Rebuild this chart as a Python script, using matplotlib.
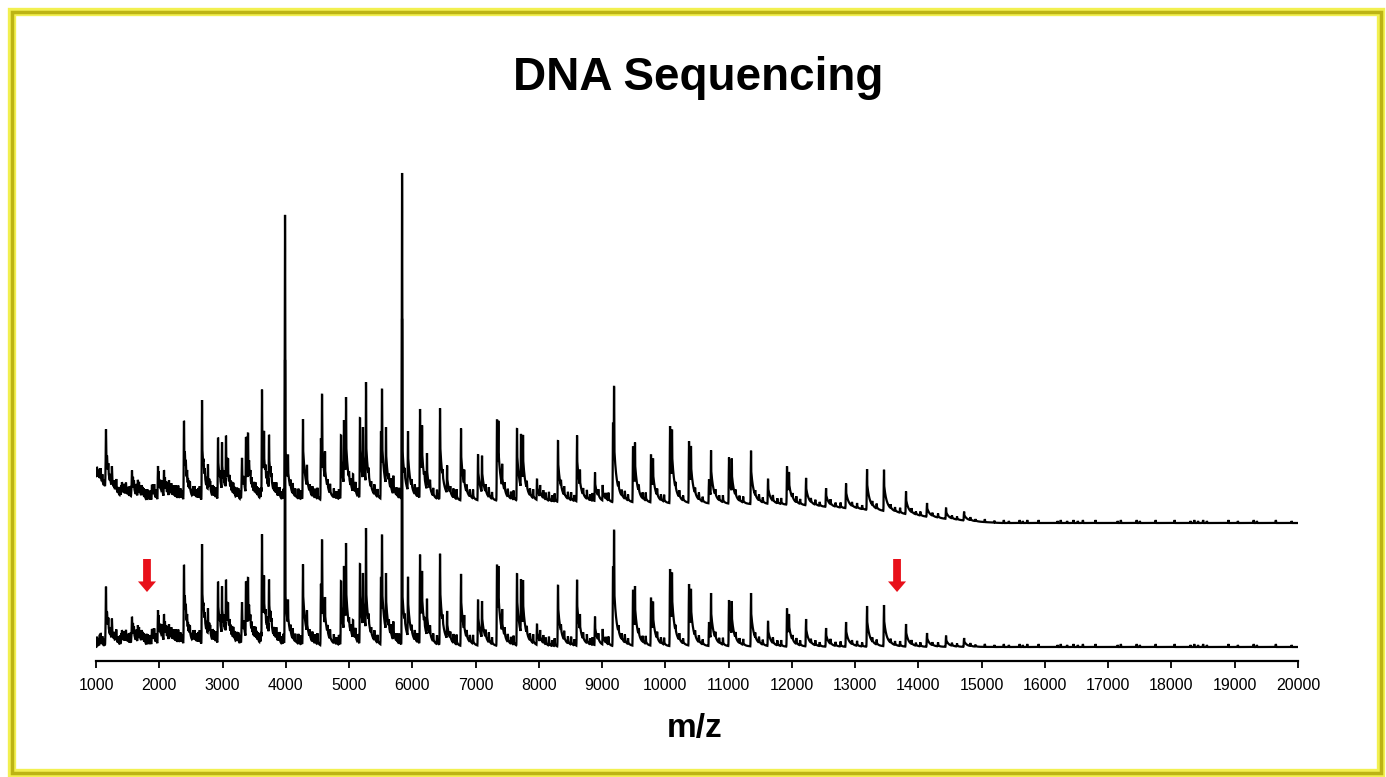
import numpy as np
import matplotlib
matplotlib.use("Agg")
import matplotlib.pyplot as plt
from matplotlib.patches import Rectangle

# ---------------- data ----------------
title = "DNA Sequencing"
xlabel = "m/z"
xticks = list(range(1000, 20001, 1000))

# major peaks: m/z and height (arbitrary intensity units)
peak_mz = [1158, 1253, 1411, 1474, 1569, 1664, 1885, 1980, 2075, 2154,
           2391, 2454, 2676, 2770, 2929, 2992, 3055, 3087, 3308, 3371,
           3403, 3624, 3656, 3735, 3988, 4035, 4272, 4335, 4556, 4573,
           4620, 4873, 4920, 4952, 5063, 5173, 5220, 5268, 5505, 5521,
           5584, 5700, 5838, 5932, 6122, 6154, 6232, 6438, 6550, 6770,
           6820, 7039, 7102, 7339, 7360, 7420, 7655, 7718, 7750, 7971,
           8020, 8303, 8604, 8650, 8888, 9010, 9173, 9189, 9489, 9520,
           9773, 9805, 10074, 10105, 10374, 10405, 10690, 10722, 11006, 11050,
           11354, 11623, 11923, 11955, 12224, 12540, 12856, 13188, 13456, 13804,
           14136, 14437, 14722]
peak_h = [57, 20, 14, 15, 28, 16, 17, 36, 32, 21,
          83, 22, 102, 37, 66, 60, 67, 45, 41, 66,
          71, 110, 71, 67, 286, 48, 82, 37, 63, 110,
          50, 67, 81, 104, 27, 85, 74, 119, 71, 115,
          74, 25, 328, 70, 92, 76, 48, 93, 36, 73,
          32, 48, 46, 84, 81, 38, 75, 68, 67, 23,
          17, 63, 67, 33, 30, 18, 82, 120, 58, 61,
          50, 46, 78, 76, 63, 59, 25, 54, 47, 46,
          54, 26, 39, 33, 28, 19, 25, 41, 42, 23,
          14, 11, 9]

# small noise peaks
noise_mz = [1015, 1040, 1060, 1075, 1100, 1130, 1150, 1175, 1195, 1225,
            1250, 1285, 1305, 1320, 1350, 1380, 1400, 1440, 1460, 1505,
            1535, 1560, 1585, 1600, 1635, 1660, 1680, 1700, 1720, 1735,
            1750, 1770, 1800, 1820, 1835, 1860, 1900, 1920, 1950, 1990,
            2015, 2030, 2045, 2090, 2110, 2130, 2170, 2190, 2210, 2225,
            2240, 2260, 2280, 2300, 2320, 2335, 2350, 2365, 2405, 2420,
            2440, 2470, 2485, 2525, 2540, 2560, 2580, 2600, 2620, 2640,
            2700, 2720, 2750, 2790, 2805, 2845, 2860, 2880, 2900, 2960,
            3020, 3040, 3110, 3130, 3150, 3170, 3190, 3215, 3230, 3250,
            3280, 3300, 3330, 3345, 3420, 3440, 3460, 3480, 3500, 3520,
            3540, 3560, 3590, 3610, 3680, 3700, 3720, 3760, 3775, 3810,
            3830, 3850, 3880, 3900, 3940, 3960, 4075, 4110, 4150, 4200,
            4240, 4380, 4420, 4460, 4500, 4660, 4700, 4760, 4800, 4840,
            5000, 5030, 5100, 5135, 5310, 5350, 5400, 5450, 5630, 5660,
            5750, 5790, 5880, 5990, 6040, 6080, 6190, 6280, 6330, 6390,
            6480, 6600, 6650, 6700, 6860, 6910, 6960, 7160, 7210, 7260,
            7460, 7510, 7560, 7600, 7810, 7860, 7910, 8070, 8110, 8160,
            8210, 8250, 8350, 8400, 8460, 8510, 8560, 8700, 8760, 8810,
            8850, 8940, 9060, 9100, 9260, 9310, 9360, 9410, 9580, 9640,
            9690, 9870, 9930, 9980, 10160, 10220, 10280, 10470, 10530, 10590,
            10790, 10850, 10910, 11110, 11170, 11230, 11420, 11480, 11540, 11700,
            11770, 11830, 12010, 12070, 12130, 12300, 12370, 12440, 12610, 12690,
            12770, 12950, 13030, 13110, 13270, 13340, 13560, 13630, 13710, 13890,
            13960, 14030, 14220, 14310, 14530, 14610, 14820, 14900]
noise_h = [10, 8, 11, 12, 9, 7, 10, 8, 11, 9,
           10, 8, 9, 12, 7, 9, 11, 10, 8, 8,
           11, 9, 10, 9, 12, 8, 11, 8, 12, 10,
           9, 9, 11, 10, 8, 10, 9, 12, 9, 12,
           11, 9, 14, 10, 10, 12, 9, 12, 11, 9,
           12, 13, 10, 14, 11, 11, 9, 9, 10, 12,
           11, 9, 10, 8, 10, 11, 8, 9, 11, 13,
           9, 10, 11, 8, 9, 12, 10, 8, 11, 10,
           11, 9, 10, 9, 11, 12, 9, 8, 10, 10,
           9, 11, 9, 11, 10, 10, 9, 8, 11, 12,
           9, 9, 10, 11, 10, 11, 9, 10, 8, 9,
           10, 12, 9, 10, 8, 10, 9, 11, 8, 10,
           9, 8, 10, 9, 11, 8, 10, 9, 7, 10,
           8, 9, 11, 8, 9, 7, 10, 8, 9, 11,
           8, 10, 9, 8, 10, 9, 7, 10, 8, 9,
           8, 7, 9, 10, 8, 7, 9, 8, 10, 7,
           9, 8, 7, 9, 8, 7, 9, 8, 7, 9,
           6, 8, 7, 9, 7, 8, 6, 7, 9, 6,
           8, 7, 6, 8, 7, 6, 8, 6, 7, 6,
           8, 7, 6, 7, 6, 7, 5, 6, 7, 5,
           6, 5, 7, 6, 5, 6, 5, 6, 5, 6,
           5, 6, 5, 6, 5, 4, 5, 4, 5, 4,
           5, 4, 5, 4, 4, 5, 4, 4, 5, 4,
           3, 4, 3, 4, 3, 3, 3, 2]

# tiny ticks in the flat high-mass region
flat_mz = [15050, 15200, 15350, 15430, 15600, 15650, 15720, 15900, 16200, 16250,
           16350, 16450, 16520, 16600, 16800, 17150, 17200, 17450, 17500, 17750,
           18050, 18300, 18360, 18420, 18500, 18560, 18900, 19050, 19300, 19350,
           19650, 19900]
flat_h = [3, 2, 3, 2, 3, 2, 3, 3, 2, 3,
          2, 3, 2, 3, 3, 2, 3, 3, 2, 3,
          3, 2, 3, 2, 3, 2, 3, 2, 3, 2,
          3, 2]

# upper (raw) trace: vertical offset and its baseline hump
upper_offset = 124
hump_mz = [1000, 1100, 1200, 1400, 1700, 2000, 3000, 5000, 8000, 10000,
           12000, 12500, 13000, 13500, 14000, 14500, 15000, 15300, 20000]
hump_val = [48, 38, 30, 24, 21, 20, 20, 22, 21, 19,
            18, 16, 14, 11, 7, 3.5, 1, 0, 0]

# red arrows (m/z positions, tail / tip intensity)
arrow_mz = [1806, 13662]
arrow_tail = 88
arrow_tip = 55

# ---------------- build the traces ----------------
mz = np.arange(1000, 20000.1, 2.0)


def peak_shape(p, h, sig, a1, t1, a2, t2, cap):
    d = mz - p
    spike = h * np.exp(-0.5 * (d / sig) ** 2)
    s = min(h, cap)
    dd = np.clip(d, 0, None)
    tail = np.where(d > -6, a1 * s * np.exp(-dd / t1) + a2 * s * np.exp(-dd / t2), 0.0)
    return np.maximum(spike, tail)


n_major = min(len(peak_mz), len(peak_h))
major = np.zeros_like(mz)
for p, h in zip(peak_mz[:n_major], peak_h[:n_major]):
    major = np.maximum(major, peak_shape(p, h, 4.0, 0.45, 32.0, 0.22, 110.0, 90))

noise = np.zeros_like(mz)
for p, h in zip(noise_mz, noise_h):
    noise += peak_shape(p, h, 3.0, 0.4, 18.0, 0.0, 1.0, 100)
for p, h in zip(flat_mz, flat_h):
    noise += peak_shape(p, h, 3.0, 0.0, 1.0, 0.0, 1.0, 100)

spec = major + noise
upper = spec + np.interp(mz, hump_mz, hump_val) + upper_offset
lower = spec

# ---------------- figure ----------------
W, H = 1386, 777
fig = plt.figure(figsize=(W / 100, H / 100), dpi=100)
fig.patch.set_facecolor("white")

ax = fig.add_axes([96 / W, 116 / H, 1202 / W, (661 - 150) / H])
ax.plot(mz, upper, color="black", lw=1.6, solid_joinstyle="miter")
ax.plot(mz, lower, color="black", lw=1.6, solid_joinstyle="miter")
ax.set_xlim(1000, 20000)
ax.set_ylim(-14, 497)

for s in ("left", "right", "top"):
    ax.spines[s].set_visible(False)
ax.spines["bottom"].set_linewidth(1.6)
ax.set_yticks([])
ax.set_xticks(xticks)
ax.set_xticklabels([str(t) for t in xticks], fontsize=11.5, family="Liberation Sans")
ax.tick_params(axis="x", direction="out", length=5, width=1.3, pad=7.5)

for xm in arrow_mz:
    ax.annotate("", xy=(xm, arrow_tip), xytext=(xm, arrow_tail),
                arrowprops=dict(arrowstyle="simple,head_width=0.65,head_length=0.38,tail_width=0.28",
                                color="#e8101a", mutation_scale=20,
                                shrinkA=0, shrinkB=0, lw=0))

fig.text(698 / W, 1 - 90 / H, title, ha="center", va="baseline",
         fontsize=33, fontweight="bold", family="Liberation Sans")
fig.text(695 / W, 1 - 737 / H, xlabel, ha="center", va="baseline",
         fontsize=24, fontweight="bold", family="Liberation Sans")

# yellow frame
fig.patches.append(Rectangle((11.5 / W, 4 / H), (1381 - 11.5) / W, (773 - 12) / H,
                             transform=fig.transFigure, fill=False,
                             edgecolor="#f2f050", lw=6))
fig.patches.append(Rectangle((11.5 / W, 4 / H), (1381 - 11.5) / W, (773 - 12) / H,
                             transform=fig.transFigure, fill=False,
                             edgecolor="#bcb414", lw=2.5))

fig.savefig("out.png", dpi=100, facecolor="white")
